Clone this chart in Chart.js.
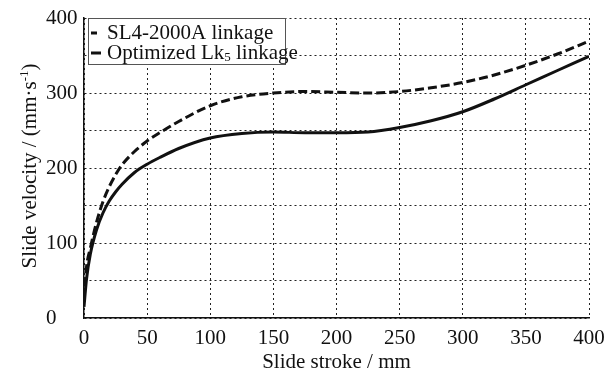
<!DOCTYPE html>
<html>
<head>
<meta charset="utf-8">
<script src="https://cdn.jsdelivr.net/npm/chart.js@4/dist/chart.umd.min.js"></script>
<style>
    html, body { margin: 0; padding: 0; background: #fff; }
    #wrap { width: 609px; height: 372px; }
</style>
</head>
<body>
<div id="wrap"><canvas id="chart"></canvas></div>
<script>
const strokes = [0, 2, 5, 10, 15, 20, 25, 30, 40, 50, 60, 75, 100, 125, 150, 175, 200, 225, 250, 275, 300, 325, 350, 375, 400]
const sl4Velocity = [25, 68, 93, 128, 155, 175, 191, 204, 222, 236, 247, 262, 283, 295, 300, 302, 301, 300, 302, 307, 314, 324, 337, 352, 369]
const lk5Velocity = [15, 52, 85, 118, 140, 156, 168, 178, 194, 205, 214, 226, 240, 246, 248, 247, 247, 248, 254, 263, 275, 292, 311, 330, 349]
const xTicks = [0, 50, 100, 150, 200, 250, 300, 350, 400]
const yLabelTicks = [0, 100, 200, 300, 400]

const FONT = '"Liberation Serif", "Times New Roman", serif'
const INK = '#111'
const SIZE = 21

const toPoints = (values) => strokes.map((x, i) => ({ x, y: values[i] }))

// draws a run of text pieces, some raised or lowered, from (x, y) along the baseline
function drawRich(ctx, parts, x, y, size) {
    let cx = x
    parts.forEach(([text, shift]) => {
        const s = shift ? size * 0.62 : size
        ctx.font = `${s}px ${FONT}`
        const dy = shift === 'sup' ? -size * 0.38 : shift === 'sub' ? size * 0.2 : 0
        ctx.fillText(text, cx, y + dy)
        cx += ctx.measureText(text).width
    })
    return cx - x
}

function measureRich(ctx, parts, size) {
    let w = 0
    parts.forEach(([text, shift]) => {
        ctx.font = `${shift ? size * 0.62 : size}px ${FONT}`
        w += ctx.measureText(text).width
    })
    return w
}

const annotations = {
    id: 'annotations',
    afterDraw(chart) {
        const { ctx, chartArea } = chart
        const datasets = chart.data.datasets
        ctx.save()

        // legend box, top-left inside the plot
        const bx = chartArea.left + 4
        const by = chartArea.top
        const bw = 197
        const bh = 46
        ctx.fillStyle = '#fff'
        ctx.fillRect(bx, by, bw, bh)
        ctx.strokeStyle = '#555'
        ctx.lineWidth = 1
        ctx.strokeRect(bx + 0.5, by + 0.5, bw, bh)

        const rows = [
            [['SL4-2000A linkage']],
            [['Optimized Lk'], ['5', 'sub'], [' linkage']],
        ]
        rows.forEach((parts, i) => {
            const cy = by + 15 + i * 20
            const ds = datasets[i]
            ctx.strokeStyle = ds.borderColor
            ctx.lineWidth = 3
            ctx.setLineDash([])
            ctx.beginPath()
            ctx.moveTo(bx + 3, cy)
            ctx.lineTo(bx + (i === 0 ? 9 : 13), cy)
            ctx.stroke()
            ctx.fillStyle = INK
            ctx.textBaseline = 'middle'
            ctx.textAlign = 'left'
            drawRich(ctx, parts, bx + 19, cy, SIZE)
        })

        // y axis title, rotated
        const title = [['Slide velocity / (mm·s'], ['-1', 'sup'], [')']]
        ctx.textBaseline = 'alphabetic'
        const w = measureRich(ctx, title, SIZE)
        ctx.translate(36, (chartArea.top + chartArea.bottom) / 2 - 2)
        ctx.rotate(-Math.PI / 2)
        drawRich(ctx, title, -w / 2, 0, SIZE)
        ctx.restore()
    },
}

new Chart(document.getElementById('chart'), {
    type: 'line',
    data: {
        datasets: [
            {
                label: 'SL4-2000A linkage',
                data: toPoints(sl4Velocity),
                borderColor: INK,
                borderWidth: 3,
                borderDash: [9, 4],
                cubicInterpolationMode: 'monotone',
                pointRadius: 0,
                fill: false,
            },
            {
                label: 'Optimized Lk5 linkage',
                data: toPoints(lk5Velocity),
                borderColor: INK,
                borderWidth: 3,
                cubicInterpolationMode: 'monotone',
                pointRadius: 0,
                fill: false,
            },
        ],
    },
    options: {
        animation: false,
        responsive: true,
        maintainAspectRatio: false,
        layout: {
            padding: { left: 46, top: 18, right: 20, bottom: 0 },
        },
        plugins: {
            legend: { display: false },
            tooltip: { enabled: false },
        },
        scales: {
            x: {
                type: 'linear',
                min: 0,
                max: 400,
                afterBuildTicks: (scale) => {
                    scale.ticks = xTicks.map((value) => ({ value }))
                },
                // fixed plot box: ignore the room Chart.js asks for the end labels
                afterFit: (scale) => {
                    scale.height = 54
                    scale.paddingLeft = 0
                    scale.paddingRight = 0
                },
                ticks: {
                    color: INK,
                    font: { family: FONT, size: SIZE },
                    padding: 8,
                    maxRotation: 0,
                },
                grid: {
                    color: '#222',
                    lineWidth: 1,
                    drawTicks: false,
                },
                border: { display: true, color: '#111', width: 1.5, dash: [2, 3] },
                title: {
                    display: true,
                    text: 'Slide stroke / mm',
                    color: INK,
                    font: { family: FONT, size: SIZE },
                    padding: { top: 0, bottom: -3 },
                },
            },
            y: {
                type: 'linear',
                min: 0,
                max: 400,
                ticks: {
                    stepSize: 50,
                    color: INK,
                    font: { family: FONT, size: SIZE },
                    crossAlign: 'far',
                    padding: 0,
                    callback: (value) => (yLabelTicks.includes(value) ? String(value) : ''),
                },
                afterFit: (scale) => {
                    scale.width = 38
                    scale.paddingTop = 0
                    scale.paddingBottom = 0
                },
                grid: {
                    color: '#222',
                    lineWidth: 1,
                    drawTicks: false,
                },
                border: { display: true, color: '#111', width: 1.5, dash: [2, 3] },
            },
        },
    },
    plugins: [annotations],
})
</script>
</body>
</html>
